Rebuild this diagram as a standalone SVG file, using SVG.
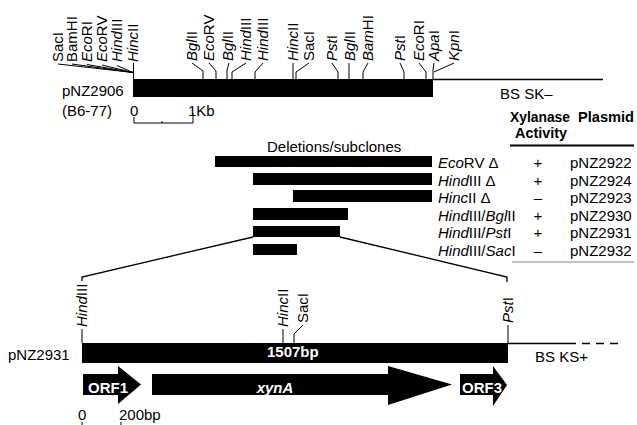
<svg xmlns="http://www.w3.org/2000/svg" width="637" height="425" viewBox="0 0 637 425">
<style>
text { font-family: "Liberation Sans", Arial, Helvetica, sans-serif; font-size: 15px; fill: #000; }
.it { font-style: italic; }
.b { font-weight: bold; }
.w { fill: #fff; }
.hd { font-weight: bold; font-size: 14px; }
.ln { stroke: #000; stroke-width: 1.3; fill: none; }
.thin { stroke: #000; stroke-width: 1; fill: none; }
.bar { fill: #000; }
</style>
<rect width="637" height="425" fill="#fff"/>

<!-- Parent plasmid pNZ2906 -->
<g id="plasmid-pNZ2906">
  <line class="ln" x1="433" y1="79.5" x2="603" y2="79.5"/>
  <rect class="bar" x="133" y="79" width="300" height="18"/>
  <text x="62" y="96">pNZ2906</text>
  <text x="62" y="116">(B6-77)</text>
  <text x="500" y="99">BS SK–</text>
</g>

<g id="scale-1kb">
  <text x="130" y="116">0</text>
  <text x="188" y="116">1Kb</text>
  <polyline class="thin" points="134,117 134,123 193,123 193,113"/>
  <line class="thin" x1="162" y1="121" x2="162" y2="123"/>
</g>

<!-- Restriction sites on pNZ2906 -->
<g id="sites-pNZ2906">
  <text transform="translate(63,62) rotate(-90)">SacI</text>
  <text transform="translate(77,62) rotate(-90)">BamHI</text>
  <text transform="translate(92,62) rotate(-90)"><tspan class="it">Eco</tspan>RI</text>
  <text transform="translate(107,62) rotate(-90)"><tspan class="it">Eco</tspan>RV</text>
  <text transform="translate(122,62) rotate(-90)"><tspan class="it">Hind</tspan>III</text>
  <text transform="translate(138,62) rotate(-90)"><tspan class="it">Hinc</tspan>II</text>

  <text transform="translate(197,61) rotate(-90)"><tspan class="it">Bgl</tspan>II</text>
  <text transform="translate(214,61) rotate(-90)"><tspan class="it">Eco</tspan>RV</text>
  <text transform="translate(233,61) rotate(-90)"><tspan class="it">Bgl</tspan>II</text>
  <text transform="translate(251,61) rotate(-90)"><tspan class="it">Hind</tspan>III</text>
  <text transform="translate(268,61) rotate(-90)"><tspan class="it">Hind</tspan>III</text>
  <text transform="translate(298,61) rotate(-90)"><tspan class="it">Hinc</tspan>II</text>
  <text transform="translate(314,61) rotate(-90)">SacI</text>
  <text transform="translate(337,61) rotate(-90)"><tspan class="it">Pst</tspan>I</text>
  <text transform="translate(355,61) rotate(-90)"><tspan class="it">Bgl</tspan>II</text>
  <text transform="translate(373,61) rotate(-90)"><tspan class="it">Bam</tspan>HI</text>
  <text transform="translate(405,61) rotate(-90)"><tspan class="it">Pst</tspan>I</text>
  <text transform="translate(424,61) rotate(-90)"><tspan class="it">Eco</tspan>RI</text>
  <text transform="translate(439,61) rotate(-90)"><tspan class="it">Apa</tspan>I</text>
  <text transform="translate(459,61) rotate(-90)"><tspan class="it">Kpn</tspan>I</text>
</g>

<!-- Deletions / subclones -->
<g id="deletions">
  <text x="267" y="152" font-size="14">Deletions/subclones</text>
  <rect class="bar" x="215" y="156" width="217" height="11"/>
  <rect class="bar" x="253" y="173" width="179" height="12"/>
  <rect class="bar" x="293" y="190" width="139" height="12"/>
  <rect class="bar" x="253" y="208" width="95" height="12"/>
  <rect class="bar" x="253" y="226" width="87" height="11"/>
  <rect class="bar" x="253" y="244" width="44" height="11"/>
</g>

<g id="table">
  <text class="hd" x="510" y="122" textLength="60" lengthAdjust="spacingAndGlyphs">Xylanase</text>
  <text class="hd" x="578" y="122" textLength="56" lengthAdjust="spacingAndGlyphs">Plasmid</text>
  <text class="hd" x="515" y="138" textLength="52" lengthAdjust="spacingAndGlyphs">Activity</text>
  <line x1="510" y1="145.5" x2="634" y2="145.5" stroke="#000" stroke-width="2"/>
  <g>
    <text x="438" y="168"><tspan class="it">Eco</tspan>RV Δ</text>
    <text x="438" y="185.5"><tspan class="it">Hind</tspan>III Δ</text>
    <text x="438" y="203"><tspan class="it">Hinc</tspan>II Δ</text>
    <text x="438" y="220.5"><tspan class="it">Hind</tspan>III/<tspan class="it">Bgl</tspan>II</text>
    <text x="438" y="238"><tspan class="it">Hind</tspan>III/<tspan class="it">Pst</tspan>I</text>
    <text x="438" y="255.5"><tspan class="it">Hind</tspan>III/<tspan class="it">Sac</tspan>I</text>
  </g>
  <g text-anchor="middle">
    <text x="538" y="168">+</text>
    <text x="538" y="185.5">+</text>
    <text x="538" y="203">–</text>
    <text x="538" y="220.5">+</text>
    <text x="538" y="238">+</text>
    <text x="538" y="255.5">–</text>
  </g>
  <g>
    <text x="570" y="168">pNZ2922</text>
    <text x="570" y="185.5">pNZ2924</text>
    <text x="570" y="203">pNZ2923</text>
    <text x="570" y="220.5">pNZ2930</text>
    <text x="570" y="238">pNZ2931</text>
    <text x="570" y="255.5">pNZ2932</text>
  </g>
  <line x1="512" y1="262" x2="634" y2="262" stroke="#888" stroke-width="1"/>
</g>

<!-- Subclone pNZ2931 -->
<g id="plasmid-pNZ2931">
  <line class="ln" x1="508" y1="343.5" x2="568" y2="343.5"/>
  <line class="ln" x1="568" y1="343.5" x2="620" y2="343.5" stroke-dasharray="8,6"/>
  <rect class="bar" x="82" y="343" width="426" height="20"/>
  <text class="b w" x="267" y="357">1507bp</text>
  <text x="8" y="360">pNZ2931</text>
  <text x="535" y="362">BS KS+</text>
</g>

<g id="sites-pNZ2931">
  <text transform="translate(87,327) rotate(-90)"><tspan class="it">Hind</tspan>III</text>
  <text transform="translate(288,327) rotate(-90)"><tspan class="it">Hinc</tspan>II</text>
  <text transform="translate(308,323) rotate(-90)">SacI</text>
  <text transform="translate(513,323) rotate(-90)"><tspan class="it">Pst</tspan>I</text>
</g>

<g id="orf1">
  <polygon class="bar" points="83,374 118,374 118,366 141,384.5 118,404 118,395 83,395"/>
  <text class="b w" x="88" y="393">ORF1</text>
</g>
<g id="xynA">
  <polygon class="bar" points="152,374 388,374 388,366 452,384.5 388,405 388,395 152,395"/>
  <text class="b it w" x="275" y="393" text-anchor="middle">xynA</text>
</g>
<g id="orf3">
  <polygon class="bar" points="460,374 493,374 493,366 507,385 493,406 493,395 460,395"/>
  <text class="b w" x="462" y="393">ORF3</text>
</g>

<g id="scale-200bp">
  <text x="78" y="420">0</text>
  <text x="119" y="420">200bp</text>
  <line class="thin" x1="82" y1="422" x2="82" y2="425"/>
  <line class="thin" x1="121" y1="422" x2="121" y2="425"/>
</g>

<!-- Connectors: site ticks and expansion lines -->
<g id="connectors" class="thin">
  <line x1="58" y1="64" x2="133" y2="72.5"/>
  <line x1="72" y1="64" x2="133" y2="72.5"/>
  <line x1="87" y1="64.5" x2="133" y2="72.5"/>
  <line x1="102" y1="65" x2="133" y2="72.5"/>
  <line x1="117" y1="65.5" x2="133" y2="72.5"/>
  <line x1="133.5" y1="63" x2="133.5" y2="79"/>

  <polyline points="192,63 203,71 203,79"/>
  <polyline points="209,63 216,71 216,79"/>
  <polyline points="229,63 227,70 227,79"/>
  <polyline points="246,63 232,72 232,79"/>
  <polyline points="263,63 255,72 255,79"/>
  <polyline points="293,63 293,79"/>
  <polyline points="309,63 296,72 296,79"/>
  <polyline points="332,63 338,72 338,79"/>
  <polyline points="349,63 349,79"/>
  <polyline points="368,63 363,72 363,79"/>
  <polyline points="400,63 404,72 404,79"/>
  <polyline points="419,63 426,72 426,79"/>
  <polyline points="434,63 433,70 433,79"/>
  <polyline points="454,63 434,72"/>

  <polyline class="ln" points="253,237 82,277 82,281"/>
  <polyline class="ln" points="340,237 507,277 507,282"/>

  <line x1="82" y1="329" x2="82" y2="343"/>
  <line x1="283" y1="329" x2="283" y2="343"/>
  <polyline points="303,325 294,334 294,343"/>
  <line x1="508" y1="325" x2="508" y2="343"/>
</g>
</svg>
